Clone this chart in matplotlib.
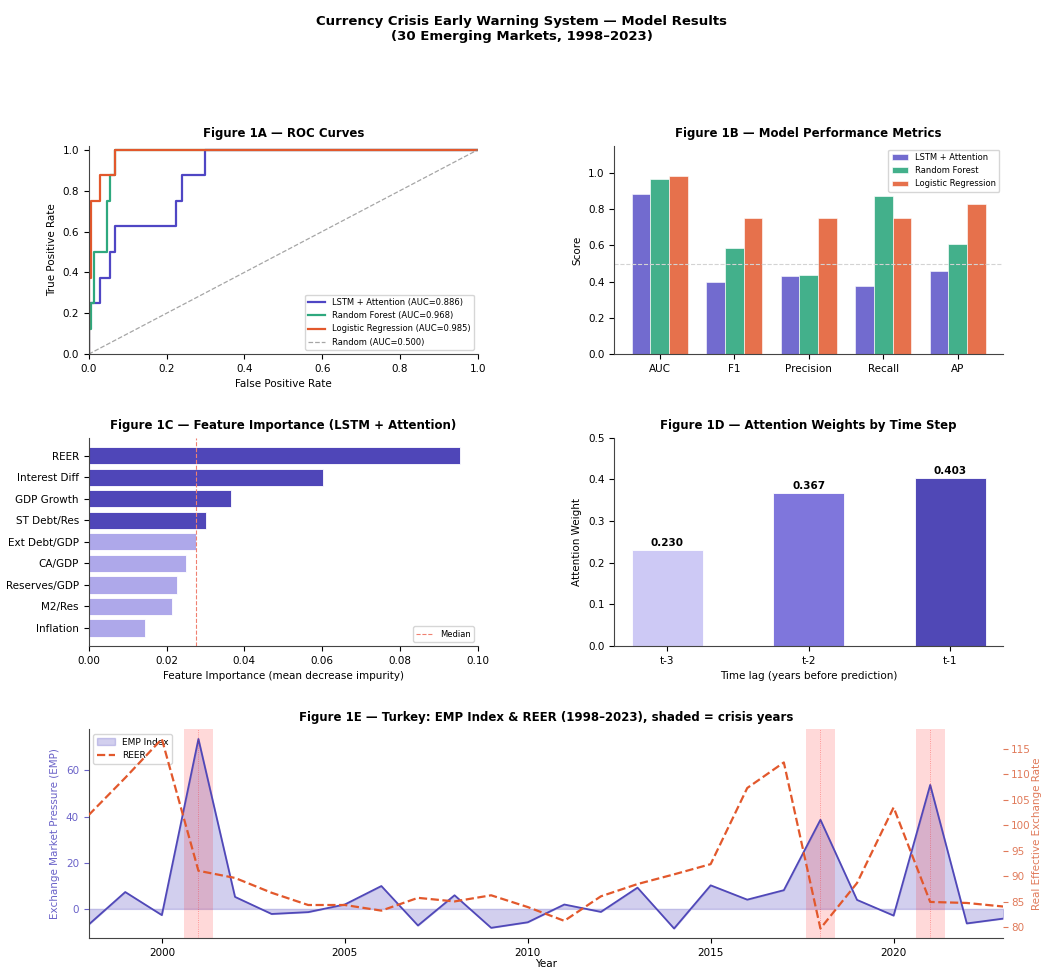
import numpy as np
import matplotlib
matplotlib.use("Agg")
import matplotlib.pyplot as plt
from matplotlib.gridspec import GridSpec

# ---- data ----
models = ['LSTM + Attention', 'Random Forest', 'Logistic Regression']
auc_vals = [0.886, 0.968, 0.985]

# ROC step points (fpr, tpr)
roc_lstm_fpr = [0.0, 0.0, 0.029, 0.029, 0.054, 0.054, 0.068, 0.068, 0.224, 0.224, 0.239, 0.239, 0.300, 0.300, 1.0]
roc_lstm_tpr = [0.0, 0.25, 0.25, 0.375, 0.375, 0.5, 0.5, 0.625, 0.625, 0.75, 0.75, 0.875, 0.875, 1.0, 1.0]
roc_rf_fpr = [0.0, 0.0, 0.007, 0.007, 0.014, 0.014, 0.046, 0.046, 0.054, 0.054, 0.068, 0.068, 1.0]
roc_rf_tpr = [0.0, 0.125, 0.125, 0.25, 0.25, 0.5, 0.5, 0.75, 0.75, 0.875, 0.875, 1.0, 1.0]
roc_lr_fpr = [0.0, 0.0, 0.007, 0.007, 0.029, 0.029, 0.068, 0.068, 1.0]
roc_lr_tpr = [0.0, 0.375, 0.375, 0.75, 0.75, 0.875, 0.875, 1.0, 1.0]

metrics = ['AUC', 'F1', 'Precision', 'Recall', 'AP']
lstm_scores = [0.886, 0.400, 0.429, 0.375, 0.460]
rf_scores = [0.968, 0.583, 0.438, 0.875, 0.608]
lr_scores = [0.985, 0.750, 0.750, 0.750, 0.826]

features = ['REER', 'Interest Diff', 'GDP Growth', 'ST Debt/Res', 'Ext Debt/GDP',
            'CA/GDP', 'Reserves/GDP', 'M2/Res', 'Inflation']
importance = [0.0955, 0.0601, 0.0365, 0.0302, 0.0276, 0.0250, 0.0227, 0.0213, 0.0145]

lags = ['t-3', 't-2', 't-1']
attn = [0.230, 0.367, 0.403]

years = list(range(1998, 2024))
emp = [-6.8, 7.3, -2.7, 73.6, 5.2, -2.2, -1.4, 1.9, 9.9, -7.2, 5.9, -8.2, -5.8,
       1.9, -1.3, 9.2, -8.5, 10.2, 4.0, 8.1, 38.6, 3.9, -2.9, 53.7, -6.3, -4.2]
reer = [102.0, 109.3, 116.9, 91.1, 89.7, 86.8, 84.4, 84.4, 83.3, 85.8, 85.1, 86.3, 84.0,
        81.3, 86.1, 88.5, 90.4, 92.4, 107.3, 112.3, 79.8, 88.7, 103.5, 85.0, 84.8, 84.1]
crisis_years = [2001, 2018, 2021]

# ---- style ----
C_LSTM = '#4f46c4'
C_RF = '#2ea87e'
C_LR = '#e2582c'
plt.rcParams['font.family'] = ['DejaVu Sans']
plt.rcParams['font.size'] = 7.5
plt.rcParams['axes.titlesize'] = 8.5
plt.rcParams['axes.titleweight'] = 'bold'
plt.rcParams['axes.labelsize'] = 7.5
plt.rcParams['xtick.labelsize'] = 7.5
plt.rcParams['ytick.labelsize'] = 7.5
plt.rcParams['axes.spines.top'] = False
plt.rcParams['axes.spines.right'] = False
plt.rcParams['axes.edgecolor'] = '#444444'

fig = plt.figure(figsize=(10.43, 9.71), dpi=100)
gs = GridSpec(3, 2, figure=fig, left=0.085, right=0.962, top=0.85, bottom=0.034,
              hspace=0.40, wspace=0.35)
fig.suptitle('Currency Crisis Early Warning System — Model Results\n(30 Emerging Markets, 1998–2023)',
             fontsize=9.5, fontweight='bold', y=0.985)

# Figure 1A
ax = fig.add_subplot(gs[0, 0])
ax.plot(roc_lstm_fpr, roc_lstm_tpr, color=C_LSTM, lw=1.6, label=f'{models[0]} (AUC={auc_vals[0]:.3f})')
ax.plot(roc_rf_fpr, roc_rf_tpr, color=C_RF, lw=1.6, label=f'{models[1]} (AUC={auc_vals[1]:.3f})')
ax.plot(roc_lr_fpr, roc_lr_tpr, color=C_LR, lw=1.6, label=f'{models[2]} (AUC={auc_vals[2]:.3f})')
ax.plot([0, 1], [0, 1], color='gray', ls='--', lw=0.9, alpha=0.7, label='Random (AUC=0.500)')
ax.set_xlim(0, 1)
ax.set_ylim(0, 1.02)
ax.set_xlabel('False Positive Rate')
ax.set_ylabel('True Positive Rate')
ax.set_title('Figure 1A — ROC Curves')
ax.legend(loc='lower right', fontsize=6)

# Figure 1B
ax = fig.add_subplot(gs[0, 1])
x = np.arange(len(metrics))
w = 0.25
ax.bar(x - w, lstm_scores, w, color=C_LSTM, alpha=0.8, edgecolor='white', lw=0.5, label=models[0])
ax.bar(x, rf_scores, w, color=C_RF, alpha=0.9, edgecolor='white', lw=0.5, label=models[1])
ax.bar(x + w, lr_scores, w, color=C_LR, alpha=0.85, edgecolor='white', lw=0.5, label=models[2])
ax.axhline(0.5, color='lightgray', ls='--', lw=0.8)
ax.set_xticks(x)
ax.set_xticklabels(metrics)
ax.set_ylim(0, 1.15)
ax.set_ylabel('Score')
ax.set_title('Figure 1B — Model Performance Metrics')
ax.legend(loc='upper right', fontsize=6)

# Figure 1C
ax = fig.add_subplot(gs[1, 0])
med = np.median(importance)
cols = ['#4f46b8' if v > med else '#aea8ea' for v in importance]
yp = np.arange(len(features))[::-1]
ax.barh(yp, importance, color=cols, edgecolor='white', lw=0.6)
ax.axvline(med, color='#f08070', ls='--', lw=0.8, label='Median')
ax.set_yticks(yp)
ax.set_yticklabels(features)
ax.set_xlim(0, 0.1)
ax.set_xlabel('Feature Importance (mean decrease impurity)')
ax.set_title('Figure 1C — Feature Importance (LSTM + Attention)')
ax.legend(loc='lower right', fontsize=6)

# Figure 1D
ax = fig.add_subplot(gs[1, 1])
bars = ax.bar(lags, attn, 0.5, color=['#cdc9f5', '#7f76dc', '#5048b6'], edgecolor='white', lw=0.6)
for b, v in zip(bars, attn):
    ax.text(b.get_x() + b.get_width() / 2, v + 0.005, f'{v:.3f}', ha='center', va='bottom',
            fontweight='bold', fontsize=7.5)
ax.set_ylim(0, 0.5)
ax.set_xlabel('Time lag (years before prediction)')
ax.set_ylabel('Attention Weight')
ax.set_title('Figure 1D — Attention Weights by Time Step')

# Figure 1E
ax = fig.add_subplot(gs[2, :])
ax.fill_between(years, 0, emp, color='#6a62c8', alpha=0.3, label='EMP Index')
ax.plot(years, emp, color='#5048b8', lw=1.3)
for cy in crisis_years:
    ax.axvspan(cy - 0.4, cy + 0.4, color='red', alpha=0.15, lw=0)
    ax.axvline(cy, color='red', ls=':', lw=0.6, alpha=0.4)
ax.set_xlim(years[0], years[-1])
ax.set_xlabel('Year', labelpad=1)
ax.set_ylabel('Exchange Market Pressure (EMP)', color='#6a62c8')
ax.tick_params(axis='y', colors='#6a62c8')
ax2 = ax.twinx()
ax2.plot(years, reer, color=C_LR, ls='--', lw=1.6, label='REER')
ax2.set_ylabel('Real Effective Exchange Rate', color='#e07a5a', labelpad=1)
ax2.tick_params(axis='y', colors='#e07a5a', pad=2)
for s in ['top', 'right', 'left', 'bottom']:
    ax2.spines[s].set_visible(False)
ax.set_title('Figure 1E — Turkey: EMP Index & REER (1998–2023), shaded = crisis years')
h1, l1 = ax.get_legend_handles_labels()
h2, l2 = ax2.get_legend_handles_labels()
ax.legend(h1 + h2, l1 + l2, loc='upper left', fontsize=6.5)

fig.savefig('out.png', dpi=100)
